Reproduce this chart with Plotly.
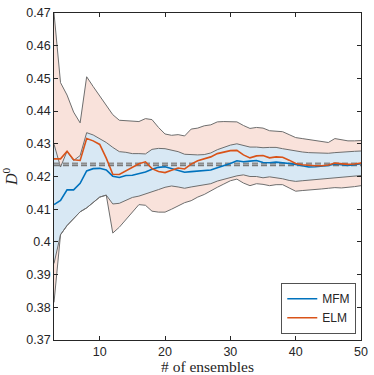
import plotly.graph_objects as go

# number of ensembles (x)
ensembles = list(range(3, 51))

# mean estimates of D^0
mfm_mean = [0.4114, 0.4127, 0.4159, 0.4159, 0.4179, 0.4217, 0.4224, 0.4225, 0.4220, 0.4201,
            0.4197, 0.4203, 0.4204, 0.4208, 0.4214, 0.4222, 0.4228, 0.4230, 0.4224, 0.4220,
            0.4213, 0.4215, 0.4217, 0.4218, 0.4220, 0.4227, 0.4233, 0.4240, 0.4248, 0.4245,
            0.4247, 0.4249, 0.4243, 0.4242, 0.4244, 0.4243, 0.4240, 0.4237, 0.4232, 0.4229,
            0.4230, 0.4231, 0.4234, 0.4238, 0.4235, 0.4234, 0.4236, 0.4239]
elm_mean = [0.4254, 0.4254, 0.4277, 0.4251, 0.4249, 0.4316, 0.4309, 0.4298, 0.4256, 0.4207,
            0.4206, 0.4217, 0.4227, 0.4239, 0.4245, 0.4224, 0.4215, 0.4212, 0.4219, 0.4226,
            0.4223, 0.4238, 0.4248, 0.4255, 0.4260, 0.4270, 0.4275, 0.4279, 0.4280, 0.4266,
            0.4257, 0.4263, 0.4264, 0.4257, 0.4260, 0.4259, 0.4250, 0.4240, 0.4236, 0.4234,
            0.4233, 0.4233, 0.4235, 0.4241, 0.4238, 0.4237, 0.4238, 0.4241]

# band limits
mfm_upper = [0.4299, 0.4229, 0.4277, 0.4249, 0.4264, 0.4334, 0.4327, 0.4316, 0.4304, 0.4289,
             0.4276, 0.4274, 0.4270, 0.4270, 0.4269, 0.4283, 0.4286, 0.4285, 0.4280, 0.4276,
             0.4268, 0.4266, 0.4266, 0.4267, 0.4272, 0.4282, 0.4290, 0.4296, 0.4300, 0.4296,
             0.4290, 0.4290, 0.4288, 0.4289, 0.4289, 0.4285, 0.4281, 0.4277, 0.4275, 0.4273,
             0.4272, 0.4271, 0.4271, 0.4273, 0.4275, 0.4276, 0.4277, 0.4278]
mfm_lower = [0.3934, 0.4022, 0.4050, 0.4072, 0.4092, 0.4104, 0.4122, 0.4137, 0.4143, 0.4116,
             0.4118, 0.4128, 0.4136, 0.4140, 0.4146, 0.4152, 0.4160, 0.4167, 0.4171, 0.4168,
             0.4164, 0.4168, 0.4172, 0.4175, 0.4178, 0.4186, 0.4192, 0.4198, 0.4202, 0.4205,
             0.4200, 0.4200, 0.4196, 0.4199, 0.4197, 0.4193, 0.4188, 0.4185, 0.4187, 0.4189,
             0.4191, 0.4192, 0.4193, 0.4195, 0.4197, 0.4199, 0.4201, 0.4203]
elm_upper = [0.4700, 0.4487, 0.4449, 0.4397, 0.4364, 0.4505, 0.4475, 0.4447, 0.4418, 0.4389,
             0.4372, 0.4370, 0.4369, 0.4368, 0.4377, 0.4374, 0.4350, 0.4330, 0.4326, 0.4328,
             0.4324, 0.4345, 0.4348, 0.4355, 0.4358, 0.4367, 0.4368, 0.4368, 0.4367, 0.4356,
             0.4347, 0.4350, 0.4348, 0.4340, 0.4338, 0.4337, 0.4328, 0.4319, 0.4316, 0.4313,
             0.4310, 0.4307, 0.4304, 0.4316, 0.4312, 0.4309, 0.4309, 0.4310]
elm_lower = [0.3815, 0.4022, 0.4050, 0.4072, 0.4092, 0.4104, 0.4122, 0.4137, 0.4143, 0.4027,
             0.4045, 0.4069, 0.4090, 0.4114, 0.4112, 0.4094, 0.4091, 0.4091, 0.4100, 0.4111,
             0.4120, 0.4126, 0.4137, 0.4145, 0.4157, 0.4167, 0.4177, 0.4187, 0.4192, 0.4180,
             0.4172, 0.4178, 0.4176, 0.4172, 0.4175, 0.4175, 0.4165, 0.4155, 0.4157, 0.4158,
             0.4160, 0.4162, 0.4164, 0.4166, 0.4165, 0.4166, 0.4169, 0.4172]

# reference levels (dashed)
ref_levels = [0.4240, 0.4234]

yticks = [0.37, 0.38, 0.39, 0.40, 0.41, 0.42, 0.43, 0.44, 0.45, 0.46, 0.47]
ytick_text = ["0.37", "0.38", "0.39", "0.4", "0.41", "0.42", "0.43", "0.44", "0.45", "0.46", "0.47"]
xticks = [10, 20, 30, 40, 50]

blue = "#0072BD"
orange = "#D95319"
edge = "#6e6e6e"

fig = go.Figure()

# shaded bands: ELM (pink) under MFM (light blue)
for up, lo, fc in [(elm_upper, elm_lower, "#F9E2DB"), (mfm_upper, mfm_lower, "#D8E8F4")]:
    fig.add_trace(go.Scatter(x=ensembles + ensembles[::-1], y=up + lo[::-1],
                             fill="toself", fillcolor=fc, mode="lines",
                             line=dict(width=0), hoverinfo="skip", showlegend=False))

for band in [elm_upper, elm_lower, mfm_upper, mfm_lower]:
    fig.add_trace(go.Scatter(x=ensembles, y=band, mode="lines",
                             line=dict(color=edge, width=1), showlegend=False))

for lev, col in zip(ref_levels, ["#8c8c8c", "#7a7a7a"]):
    fig.add_trace(go.Scatter(x=[ensembles[0], ensembles[-1]], y=[lev, lev], mode="lines",
                             line=dict(color=col, width=1.6, dash="6px,3px"), showlegend=False))

fig.add_trace(go.Scatter(x=ensembles, y=mfm_mean, mode="lines", name="MFM",
                         line=dict(color=blue, width=1.6)))
fig.add_trace(go.Scatter(x=ensembles, y=elm_mean, mode="lines", name="ELM",
                         line=dict(color=orange, width=1.6)))

axis_common = dict(showline=True, linecolor="#262626", linewidth=0.8, mirror="ticks",
                   ticks="inside", ticklen=4, tickcolor="#262626", tickwidth=0.8,
                   showgrid=False, zeroline=False,
                   tickfont=dict(family="Liberation Sans", size=12.5, color="#262626"))

fig.update_xaxes(range=[3, 50], tickvals=xticks, **axis_common)
fig.update_yaxes(range=[0.37, 0.47], tickvals=yticks, ticktext=ytick_text,
                 title=dict(text="<i>D</i><sup>0</sup>", standoff=4,
                            font=dict(family="Liberation Serif", size=16, color="#262626")),
                 **axis_common)

# x-axis title placed as annotation so it sits close to the tick labels
fig.add_annotation(text="# of ensembles", xref="paper", yref="paper", x=0.5, y=-0.081,
                   xanchor="center", yanchor="middle", showarrow=False,
                   font=dict(family="Liberation Serif", size=15.5, color="#262626"))

fig.update_layout(width=374, height=375, margin=dict(l=54, r=8, t=6, b=35),
                  plot_bgcolor="white", paper_bgcolor="white",
                  legend=dict(x=0.982, y=0.02, xanchor="right", yanchor="bottom",
                              bgcolor="white", bordercolor="#262626", borderwidth=0.8,
                              font=dict(family="Liberation Sans", size=12, color="#262626"),
                              tracegroupgap=0, itemwidth=30))

fig.write_html("out.html", config={"displayModeBar": False},
               post_script="document.body.style.margin='0';")
